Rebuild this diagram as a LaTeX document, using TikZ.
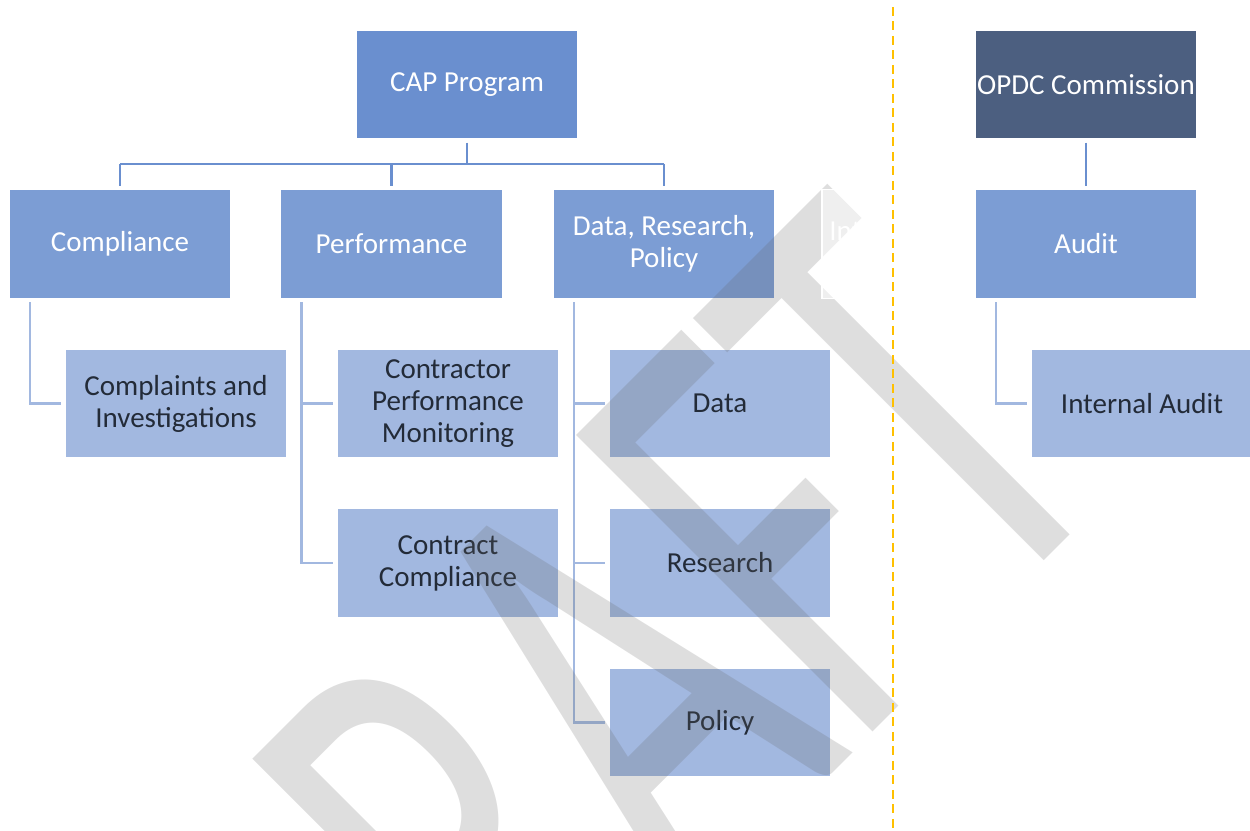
\documentclass[tikz,border=0pt]{standalone}
\usepackage{fontspec}
\usepackage{graphicx}
\setmainfont{Carlito}
\newfontfamily\wmfont{Carlito}
\definecolor{capblue}{RGB}{106,143,207}
\definecolor{midblue}{RGB}{124,157,212}
\definecolor{lightblue}{RGB}{162,184,224}
\definecolor{slate}{RGB}{76,95,128}
\definecolor{inktext}{RGB}{35,43,56}
\definecolor{wmgray}{RGB}{100,100,100}
\definecolor{divider}{RGB}{255,192,0}
\begin{document}
\begin{tikzpicture}[x=0.02cm,y=-0.02cm,
  orgbox/.style={draw=white, line width=0.7pt, minimum width=4.44cm, minimum height=2.18cm,
    inner sep=0pt, align=center, font=\fontsize{16.5pt}{18.2pt}\selectfont},
  headbox/.style={orgbox, fill=capblue, text=white},
  boardbox/.style={orgbox, fill=slate, text=white},
  unitbox/.style={orgbox, fill=midblue, text=white},
  teambox/.style={orgbox, fill=lightblue, text=inktext},
  topline/.style={draw=capblue, line width=0.05cm},
  subline/.style={draw=lightblue, line width=0.05cm, shorten <=0.06cm, shorten >=0.06cm},
  gapped/.style={shorten <=0.06cm, shorten >=0.06cm}]
\useasboundingbox (0,0) rectangle (1250,831);
\clip (0,0) rectangle (1250,831);

% top of the programme
\node[headbox] (cap) at (467,84.5) {CAP Program};
\node[boardbox] (opdc) at (1086,84.5) {OPDC Commission};

% units
\node[unitbox] (comp) at (120,244) {Compliance};
\node[unitbox] (perf) at (391.5,244) {Performance};
\node[unitbox] (drp) at (664,244) {Data, Research,\\Policy};
\node[unitbox] (audit) at (1086,244) {Audit};

% teams
\node[teambox] (cmpl) at (176,403.5) {Complaints and\\Investigations};
\node[teambox] (cpm) at (448,403.5) {Contractor\\Performance\\Monitoring};
\node[teambox] (ccmp) at (448,563) {Contract\\Compliance};
\node[teambox] (data) at (720,403.5) {Data};
\node[teambox] (res) at (720,563) {Research};
\node[teambox] (pol) at (720,722.5) {Policy};
\node[teambox] (iaud) at (1142,403.5) {Internal Audit};

% bus under CAP Program
\coordinate (busL) at (120,164);
\coordinate (busR) at (664,164);
\draw[topline, shorten <=0.06cm] (cap.south) -- (cap.south |- busL);
\draw[topline] (busL) -- (busR);
\draw[topline, shorten >=0.06cm] (busL) -- (comp.north);
\draw[topline, shorten >=0.06cm] (perf.north |- busL) -- (perf.north);
\draw[topline, shorten >=0.06cm] (busR) -- (drp.north);
\draw[topline, gapped] (opdc) -- (audit);

% unit to team links
\draw[subline] ([xshift=0.43cm]comp.south west) |- (cmpl.west);
\draw[subline] ([xshift=0.43cm]perf.south west) |- (cpm.west);
\draw[subline] ([xshift=0.43cm]perf.south west) |- (ccmp.west);
\draw[subline] ([xshift=0.43cm]drp.south west) |- (data.west);
\draw[subline] ([xshift=0.43cm]drp.south west) |- (res.west);
\draw[subline] ([xshift=0.43cm]drp.south west) |- (pol.west);
\draw[subline] ([xshift=0.43cm]audit.south west) |- (iaud.west);

% watermark
\node[rotate=45, inner sep=0pt, text=wmgray, text opacity=0.21,
  font=\wmfont\fontsize{372pt}{372pt}\selectfont] (wm) at (591,718)
  {\scalebox{0.627}[1]{DRAFT}};

% hidden box, only its edge shows
\begin{scope}
  \clip (821,185) rectangle (866,302);
  \node[orgbox, fill=white, fill opacity=0.5, draw opacity=1] (hid) at (933,244) {};
  \node[anchor=base west, inner sep=0pt, text=white,
    font=\fontsize{16.5pt}{18.2pt}\selectfont] (hidtxt) at (829,240) {Int};
\end{scope}

% divider
\coordinate (divtop) at (893,7);
\coordinate (divbot) at (893,831);
\draw[divider, line width=0.054cm, dash pattern=on 0.18cm off 0.11cm] (divtop) -- (divbot);
\end{tikzpicture}
\end{document}
